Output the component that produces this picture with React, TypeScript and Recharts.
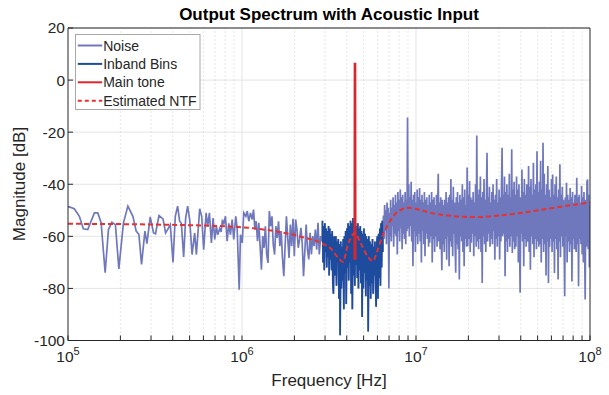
import React from 'react';
import { CartesianGrid, ComposedChart, Line, ReferenceLine, XAxis, YAxis } from 'recharts';

const FONT = '"Liberation Sans", Arial, Helvetica, sans-serif';
const INK = '#262626';

const title = 'Output Spectrum with Acoustic Input';
const decadeTicks = [1e5, 1e6, 1e7, 1e8];
const minorMultipliers = [2, 3, 4, 5, 6, 7, 8, 9];
const magnitudeTicks = [-100, -80, -60, -40, -20, 0, 20];

// low-frequency FFT bins, sparse on a log axis: [kHz, dB]
const noiseLowBins: [number, number][] = [
  [100, -48.7], [101.7, -48.7], [108.7, -49.4], [116.2, -52.3], [122.5, -57.1],
  [129.9, -57.4], [141.8, -51], [148.3, -51], [155.0, -54.8], [163.5, -74],
  [170.8, -57.4], [178.6, -54.6], [187.3, -55.5], [196.0, -72.5], [208.3, -54.8],
  [220.9, -48.4], [236.0, -52.3], [246.5, -58], [255.6, -59.3], [264.6, -70.8],
  [276.8, -58], [284.2, -62.8], [296.9, -52.5], [310.1, -58.7], [318.5, -59],
  [333.3, -52], [351.5, -53.3], [363.8, -58.7], [373.5, -57.4], [387.1, -55.5],
  [401.3, -70], [413.7, -52.3], [426.6, -48.4], [438.1, -54.2], [448.1, -55],
  [462.0, -67.9], [474.4, -53], [487.1, -48.4], [500.3, -53.6], [516.4, -67],
  [534.6, -58.7], [546.8, -67], [571.3, -49.4], [586.6, -52.3], [602.3, -65.1],
  [621.9, -51], [635.2, -56.2], [649.7, -51], [667.1, -62.5], [682.3, -53],
  [697.0, -61.2], [712.9, -56.2], [725.3, -59.4], [744.7, -57], [758.7, -58.3],
  [771.9, -53.6], [785.4, -55.5], [803.3, -52.3], [821.6, -61.9], [839.2, -55],
  [858.3, -59.4], [877.8, -53.6], [896.8, -61.2], [920.9, -52.3], [938.3, -57],
  [963.6, -80.5], [980.4, -59.4], [1003, -62.5], [1024, -51], [1052, -52.3],
  [1072, -50.3], [1094, -54.2], [1119, -51],
];

// 1.145 MHz .. 2.88 MHz
const noiseMidDb = [
  -53.5, -49.7, -57.4, -54.2, -61.9, -54.8, -63.8, -72.8, -59.9, -64.4,
  -56.1, -67.0, -70.2, -50.3, -56.1, -52.3, -63.2, -67.0, -56.1, -60.6,
  -54.2, -63.8, -58.0, -68.3, -75.3, -63.8, -52.3, -60.6, -68.3, -55.5,
  -63.8, -53.3, -67.6, -53.5, -57.4, -64.4, -61.2, -56.7, -62.5, -75.3,
  -65.7, -55.5, -65.1, -68.9, -58.6, -67.0, -59.9, -63.8, -57.4, -65.1,
  -54.8, -67.0, -59.9, -61.9,
];

// signal band, 2.9 MHz .. 6.45 MHz
const inbandDb = [
  -54, -70, -56, -73, -55, -66, -57, -72, -58, -68, -56, -75, -57, -69, -59, -73, -58, -78, -82, -60,
  -61, -75, -60, -79, -62, -70, -61, -84, -63, -98, -62, -80, -64, -77, -61, -88, -60, -74, -58, -86,
  -57, -72, -55, -77, -56, -70, -54, -82, -55, -88, -53, -75, -54, -79, -55, -71, -56, -76, -55, -80,
  -57, -73, -56, -78, -58, -91, -59, -80, -57, -74, -59, -83, -60, -77, -61, -96.5, -60, -79, -62, -84,
  -63, -78, -61, -82, -64, -75, -62, -80, -87, -63, -60, -84, -59, -76, -57, -79, -55, -72, -54, -66,
];

// shaped noise above the band, 6.5 MHz .. 100 MHz
const noiseHighDb = [
  -52, -61, -48, -58, -50, -63, -47, -57, -49, -80, -51, -60, -46, -62, -49, -56, -45, -64, -48, -59,
  -44, -60, -47, -67, -43, -58, -46, -62, -42, -57, -45, -65, -44, -59, -47, -61, -43, -63, -46, -58,
  -14.4, -57, -40, -60, -45, -56, -39, -62, -46, -71.5, -44, -58, -43, -66, -47, -60, -42, -63, -45, -59,
  -41.4, -62, -46, -70, -44, -58, -47, -63, -43, -67.6, -46, -59, -45, -61, -48, -64, -44, -62.5, -47, -60,
  -43, -70, -46, -61, -45, -66, -48, -60, -44, -64, -49, -36, -62, -47, -65, -45, -60, -73, -46, -63,
  -48, -66, -46, -61, -43, -69, -47, -60, -45, -71.5, -44, -62, -38, -64, -46, -67.6, -41, -59, -47, -63,
  -74, -45, -63, -43, -65, -47, -76.6, -44, -60, -46, -62, -40, -66, -45, -71.5, -42, -61, -48, -64, -33.6,
  -63.8, -44, -61, -38.8, -66, -45, -62.5, -46, -59, -43, -67.6, -47, -60, -40, -64, -21.3, -62, -44, -65, -42,
  -61, -37, -66, -45, -77.9, -43, -60, -38, -63, -46, -66, -44, -27.9, -62, -45, -59, -41, -64, -47, -61,
  -43, -63, -40, -58, -46, -69, -44, -61, -38, -64, -47, -60, -42, -68.9, -45, -62, -41, -26, -60, -44,
  -59, -37, -75.3, -43, -62, -40, -66, -44, -61, -36, -64, -45, -60, -26.6, -66.4, -42, -62, -39, -65, -44,
  -64, -37, -60, -42, -70, -40, -62, -81.7, -45, -59, -34.3, -62, -43, -71.5, -38, -61, -44, -64, -40, -60,
  -62, -33, -66, -41, -72.8, -38, -60, -44, -63, -31.7, -68, -42, -61, -40, -65, -27.3, -62, -43, -64, -39,
  -63, -31, -70, -42, -61, -24.1, -66, -36, -63, -44, -75, -40, -62, -33, -77.9, -42, -64, -45, -61, -38,
  -66, -36.3, -62, -44, -74.1, -40, -61, -37, -65, -45, -76.6, -42, -62, -32.3, -68, -44, -60, -41, -64, -46,
  -63, -83, -45, -60, -39.4, -70, -44, -62, -46, -66, -41.4, -63, -45, -77.3, -43, -61, -47, -65, -44, -62,
  -66, -37.5, -63, -45, -79.2, -44, -61, -47, -63, -40.7, -67, -45, -70, -43, -62, -84.3, -46, -64, -39, -38.2,
  -65, -44, -72, -48,
];

// tone bins: [Hz, dB]
const mainToneBins: [number, number][] = [
  [4.44e6, -69], [4.455e6, 6.2], [4.465e6, 6.2], [4.48e6, -69],
];

// estimated noise transfer function: [Hz, dB]
const ntfPoints: [number, number][] = [
  [1e5, -55.2], [2e5, -55.3], [4e5, -55.6], [7e5, -56], [1e6, -56.5],
  [1.6e6, -58.2], [2.2e6, -60.2], [2.9e6, -62.8], [3.25e6, -64.8], [3.6e6, -68.5],
  [3.8e6, -69.8], [4.05e6, -63.5], [4.3e6, -59.5], [4.46e6, -58.8], [4.8e6, -62.5],
  [5.25e6, -67.5], [5.65e6, -69.5], [6.0e6, -65.5], [6.45e6, -59.5], [6.9e6, -55.5],
  [7.5e6, -51.8], [8.2e6, -49.8], [9e6, -49], [1.02e7, -49.6], [1.22e7, -51],
  [1.52e7, -52], [1.9e7, -52.5], [2.3e7, -52.6], [3e7, -52], [4e7, -51],
  [5e7, -50], [7e7, -48.5], [1e8, -47],
];

type Pt = { f: number; db: number };

// lay a run of bins evenly (in log f) between two frequencies
const spread = (f0: number, f1: number, values: number[]): Pt[] =>
  values.map((db, i) => ({ f: f0 * Math.pow(f1 / f0, i / (values.length - 1)), db }));

const inbandData = spread(2.9e6, 6.45e6, inbandDb);
const noiseData: Pt[] = [
  ...noiseLowBins.map(([k, db]) => ({ f: k * 1e3, db })),
  ...spread(1.145e6, 2.88e6, noiseMidDb),
  ...inbandData,
  ...spread(6.5e6, 1e8, noiseHighDb),
];
const toneData = mainToneBins.map(([f, db]) => ({ f, db }));
const ntfData = ntfPoints.map(([f, db]) => ({ f, db }));

const minorTicks = decadeTicks.slice(0, 3).flatMap((d) => minorMultipliers.map((m) => m * d));
const allXTicks = [...decadeTicks, ...minorTicks].sort((a, b) => a - b);

const legendItems = [
  { name: 'Noise', color: '#6f78bc', dash: undefined },
  { name: 'Inband Bins', color: '#1d4c9f', dash: undefined },
  { name: 'Main tone', color: '#e0262c', dash: undefined },
  { name: 'Estimated NTF', color: '#e8302f', dash: '4 3' },
];

const DecadeTick = (props: any) => {
  const { x, y, payload } = props;
  const exp = Math.round(Math.log10(payload.value));
  if (Math.abs(payload.value - Math.pow(10, exp)) > 1) return <g />;
  return (
    <text x={x} y={y + 11.5} textAnchor="middle" fill={INK} fontFamily={FONT} fontSize={15.5}>
      <tspan>10</tspan>
      <tspan dy={-7} fontSize={11}>{exp}</tspan>
    </text>
  );
};

const MagTick = (props: any) => {
  const { x, y, payload } = props;
  return (
    <text x={x} y={y} dy="0.35em" textAnchor="end" fill={INK} fontFamily={FONT} fontSize={15.5}>
      {payload.value}
    </text>
  );
};

function Legend() {
  return (
    <svg width={126} height={77} style={{ position: 'absolute', left: 74.5, top: 33.5 }}>
      <rect x={0.5} y={0.5} width={124.5} height={75} fill="#fff" stroke="#a8a8a8" />
      {legendItems.map((item, i) => {
        const cy = 11.5 + i * 18.4;
        return (
          <g key={item.name}>
            <line x1={2.8} x2={27.2} y1={cy} y2={cy} stroke={item.color} strokeWidth={2} strokeDasharray={item.dash} />
            <text x={28.2} y={cy + 5} fill={INK} fontFamily={FONT} fontSize={14}>
              {item.name}
            </text>
          </g>
        );
      })}
    </svg>
  );
}

export default function App() {
  return (
    <div style={{ position: 'absolute', left: 0, top: 0, width: 609, height: 395, background: '#fff', fontFamily: FONT }}>
      <ComposedChart width={609} height={395} margin={{ top: 27, right: 18, bottom: 0, left: 0 }}>
        <CartesianGrid vertical={false} stroke="#e4e4e4" />
        {minorTicks.map((f) => (
          <ReferenceLine key={f} x={f} stroke="#cdcdcd" strokeDasharray="1 3" />
        ))}
        {decadeTicks.slice(1, 3).map((f) => (
          <ReferenceLine key={f} x={f} stroke="#e4e4e4" />
        ))}
        <XAxis
          dataKey="f"
          type="number"
          scale="log"
          domain={[1e5, 1e8]}
          allowDataOverflow
          ticks={allXTicks}
          interval={0}
          height={54.5}
          tickSize={-5}
          tickMargin={15}
          tick={DecadeTick}
          axisLine={{ stroke: INK }}
          tickLine={{ stroke: INK }}
        />
        <XAxis
          xAxisId="top"
          orientation="top"
          type="number"
          scale="log"
          domain={[1e5, 1e8]}
          allowDataOverflow
          ticks={allXTicks}
          interval={0}
          height={1}
          tickSize={-5}
          tick={false}
          axisLine={{ stroke: INK }}
          tickLine={{ stroke: INK }}
        />
        <YAxis
          type="number"
          domain={[-100, 20]}
          allowDataOverflow
          ticks={magnitudeTicks}
          interval={0}
          width={68}
          tickSize={-5}
          tickMargin={8}
          tick={MagTick}
          axisLine={{ stroke: INK }}
          tickLine={{ stroke: INK }}
        />
        <YAxis
          yAxisId="right"
          orientation="right"
          type="number"
          domain={[-100, 20]}
          allowDataOverflow
          ticks={magnitudeTicks}
          interval={0}
          width={1}
          tickSize={-5}
          tick={false}
          axisLine={{ stroke: INK }}
          tickLine={{ stroke: INK }}
        />
        <Line data={noiseData} dataKey="db" type="linear" stroke="#6f78bc" strokeWidth={1.7} dot={false} isAnimationActive={false} />
        <Line data={inbandData} dataKey="db" type="linear" stroke="#1d4c9f" strokeWidth={1.6} dot={false} isAnimationActive={false} />
        <Line data={toneData} dataKey="db" type="linear" stroke="#d9262e" strokeWidth={2.5} dot={false} isAnimationActive={false} />
        <Line data={ntfData} dataKey="db" type="monotone" stroke="#e8302f" strokeWidth={2} strokeDasharray="5 3" dot={false} isAnimationActive={false} />
      </ComposedChart>

      <div style={{ position: 'absolute', left: 68, width: 522, top: 5, textAlign: 'center', fontSize: 17, lineHeight: '20px', fontWeight: 'bold', color: '#000' }}>
        {title}
      </div>
      <div style={{ position: 'absolute', left: 68, width: 522, top: 371, textAlign: 'center', fontSize: 17, lineHeight: '20px', color: INK }}>
        Frequency [Hz]
      </div>
      <div
        style={{
          position: 'absolute',
          left: 20,
          top: 184,
          transform: 'translate(-50%, -50%) rotate(-90deg)',
          whiteSpace: 'nowrap',
          fontSize: 17,
          lineHeight: '20px',
          color: INK,
        }}
      >
        Magnitude [dB]
      </div>
      <Legend />
    </div>
  );
}
